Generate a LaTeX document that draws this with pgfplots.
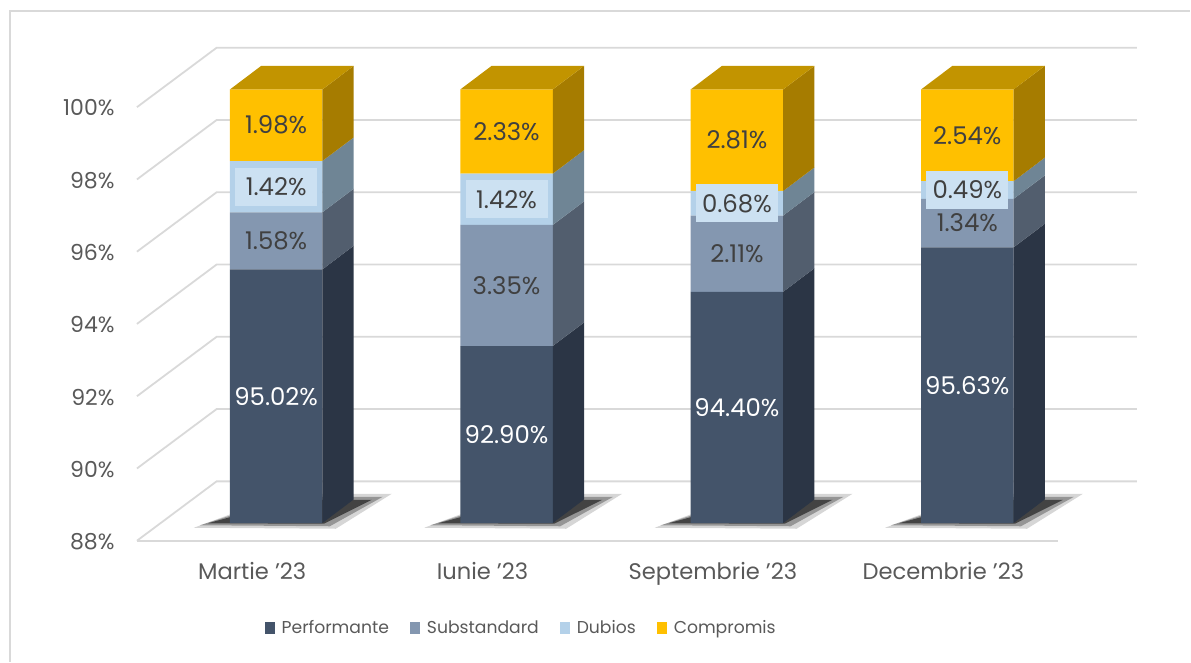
\documentclass[border=0pt]{standalone}
\usepackage{pgfplots}
\pgfplotsset{compat=1.18}
\usepackage{pgfplotstable}
\usepackage{fontspec}
\setmainfont{Poppins}

\definecolor{perf}{HTML}{44546A}
\definecolor{perfS}{HTML}{2B3545}
\definecolor{sub}{HTML}{8497B0}
\definecolor{subS}{HTML}{525E6E}
\definecolor{dub}{HTML}{B4D1E9}
\definecolor{dubS}{HTML}{6F8595}
\definecolor{dubBox}{HTML}{CCE1F2}
\definecolor{comp}{HTML}{FFC000}
\definecolor{compS}{HTML}{A67C00}
\definecolor{compT}{HTML}{C29400}
\definecolor{gridc}{HTML}{D9D9D9}
\definecolor{txt}{HTML}{595959}
\definecolor{lab}{HTML}{404040}

\pgfplotstableread{
x P S D C
0 95.02 1.58 1.42 1.98
1 92.90 3.35 1.42 2.33
2 94.40 2.11 0.68 2.81
3 95.63 1.34 0.49 2.54
}\datatable

% label positions (middle of the visible part of each segment)
\pgfplotstableread{
x y m
0 91.51 95.02
1 90.45 92.90
2 91.20 94.40
3 91.815 95.63
}\labP
\pgfplotstableread{
x y m
0 95.81 1.58
1 94.575 3.35
2 95.455 2.11
3 96.30 1.34
0 99.01 1.98
1 98.835 2.33
2 98.595 2.81
3 98.73 2.54
}\labSC
\pgfplotstableread{
x y m
0 97.31 1.42
1 96.96 1.42
2 96.85 0.68
3 97.215 0.49
}\labD

\newcommand\ap{\char39\relax}

\pgfplotsset{
 geo/.style={x=115.25pt, y=18.075pt, xmin=-0.6043, xmax=3.7354, ymin=88, ymax=100,
   scale only axis, enlargelimits=false, axis line style={draw=none},
   major tick length=0pt, at={(0pt,0pt)}, anchor=south west},
 noticks/.style={xtick=\empty, ytick=\empty},
 face/.style={draw=none, forget plot},
 gl/.style={draw=gridc, line width=0.9pt, forget plot, mark=none},
 sh/.style={draw=none, fill=black, forget plot},
 legsq/.style={legend image code/.code={\fill[##1] (0pt,-2.4pt) rectangle (5pt,3.6pt);}},
 lbl/.style={draw=none, mark=none, forget plot, point meta=explicit,
   nodes near coords={\pgfmathprintnumber[fixed,fixed zerofill,precision=2,assume math mode=true]{\pgfplotspointmeta}\%},
   every node near coord/.append style={anchor=center, font=\fontsize{12.2}{14}\selectfont}},
}

\begin{document}
\begin{tikzpicture}
% ---------- background: frame, walls, tick labels, shadows
\begin{axis}[geo, clip=false,
  ytick={88,90,...,100},
  yticklabels={88\%,90\%,92\%,94\%,96\%,98\%,100\%},
  yticklabel style={font=\fontsize{11}{13}\selectfont, text=txt, anchor=east, inner sep=0pt, xshift=-11pt, yshift=-9.3pt},
  xtick={0,1,2,3},
  xticklabels={Martie \ap23, Iunie \ap23, Septembrie \ap23, Decembrie \ap23},
  xticklabel style={font=\fontsize{11.3}{13}\selectfont, text=txt, anchor=base, inner sep=0pt, xshift=-12pt, yshift=-28.35pt},
]
\coordinate (bbsw) at (axis cs:-1.1987,84.163);
\coordinate (bbne) at (axis cs:3.9683,102.476);
% frame
\addplot[draw=gridc, line width=0.6pt, forget plot, mark=none] coordinates {(-1.1553,84.163) (-1.1553,102.172) (3.9683,102.172)};
% walls / grid
\addplot[gl] coordinates {(-0.6043,87.51) (-0.2586,89.154) (3.7354,89.154)};
\addplot[gl] coordinates {(-0.6043,89.51) (-0.2586,91.154) (3.7354,91.154)};
\addplot[gl] coordinates {(-0.6043,91.51) (-0.2586,93.154) (3.7354,93.154)};
\addplot[gl] coordinates {(-0.6043,93.51) (-0.2586,95.154) (3.7354,95.154)};
\addplot[gl] coordinates {(-0.6043,95.51) (-0.2586,97.154) (3.7354,97.154)};
\addplot[gl] coordinates {(-0.6043,97.51) (-0.2586,99.154) (3.7354,99.154)};
\addplot[gl] coordinates {(-0.6043,99.51) (-0.2586,101.154) (3.7354,101.154)};
\addplot[gl] coordinates {(-0.6043,87.51) (3.3957,87.51)};
% shadows (three soft layers under each bar)
\addplot[sh, fill opacity=0.16] coordinates {(-0.3571,87.870) (0.2590,87.842) (0.5020,88.8105) (0.0421,88.8105)} -- cycle;
\addplot[sh, fill opacity=0.30] coordinates {(-0.3310,87.939) (0.2330,87.911) (0.4629,88.7275) (0.0594,88.7275)} -- cycle;
\addplot[sh, fill opacity=0.55] coordinates {(-0.2963,87.9945) (0.2069,87.981) (0.4156,88.6445) (0.0768,88.6445)} -- cycle;
\addplot[sh, fill opacity=0.16] coordinates {(0.6429,87.870) (1.2590,87.842) (1.5020,88.8105) (1.0421,88.8105)} -- cycle;
\addplot[sh, fill opacity=0.30] coordinates {(0.6690,87.939) (1.2330,87.911) (1.4629,88.7275) (1.0594,88.7275)} -- cycle;
\addplot[sh, fill opacity=0.55] coordinates {(0.7037,87.9945) (1.2069,87.981) (1.4156,88.6445) (1.0768,88.6445)} -- cycle;
\addplot[sh, fill opacity=0.16] coordinates {(1.6429,87.870) (2.2590,87.842) (2.5020,88.8105) (2.0421,88.8105)} -- cycle;
\addplot[sh, fill opacity=0.30] coordinates {(1.6690,87.939) (2.2330,87.911) (2.4629,88.7275) (2.0594,88.7275)} -- cycle;
\addplot[sh, fill opacity=0.55] coordinates {(1.7037,87.9945) (2.2069,87.981) (2.4156,88.6445) (2.0768,88.6445)} -- cycle;
\addplot[sh, fill opacity=0.16] coordinates {(2.6429,87.870) (3.2590,87.842) (3.5020,88.8105) (3.0421,88.8105)} -- cycle;
\addplot[sh, fill opacity=0.30] coordinates {(2.6690,87.939) (3.2330,87.911) (3.4629,88.7275) (3.0594,88.7275)} -- cycle;
\addplot[sh, fill opacity=0.55] coordinates {(2.7037,87.9945) (3.2069,87.981) (3.4156,88.6445) (3.0768,88.6445)} -- cycle;
\end{axis}

% ---------- front faces of the stacked bars
\begin{axis}[geo, noticks, clip=true, ybar stacked, bar width=0.4013,
  legend columns=4,
  legend style={at={(0.3853,-0.2437)}, anchor=center, draw=none, fill=none,
    font=\fontsize{8.6}{11}\selectfont, text=txt,
    /tikz/every odd column/.append style={column sep=1.5pt},
    /tikz/every even column/.append style={column sep=8.5pt}},
]
\addplot[fill=perf, draw=none, legsq] table[x=x, y=P] {\datatable};
\addlegendentry{Performante}
\addplot[fill=sub, draw=none, legsq] table[x=x, y=S] {\datatable};
\addlegendentry{Substandard}
\addplot[fill=dub, draw=none, legsq] table[x=x, y=D] {\datatable};
\addlegendentry{Dubios}
\addplot[fill=comp, draw=none, legsq] table[x=x, y=C] {\datatable};
\addlegendentry{Compromis}
\end{axis}

% ---------- side and top faces, value labels
\begin{axis}[geo, noticks, clip=false]
% Martie
\addplot[face, fill=perfS] coordinates {(0.2007,88) (0.3365,88.6528) (0.3365,95.6728) (0.2007,95.02)} -- cycle;
\addplot[face, fill=subS]  coordinates {(0.2007,95.02) (0.3365,95.6728) (0.3365,97.2528) (0.2007,96.60)} -- cycle;
\addplot[face, fill=dubS]  coordinates {(0.2007,96.60) (0.3365,97.2528) (0.3365,98.6728) (0.2007,98.02)} -- cycle;
\addplot[face, fill=compS] coordinates {(0.2007,98.02) (0.3365,98.6728) (0.3365,100.6528) (0.2007,100)} -- cycle;
\addplot[face, fill=compT] coordinates {(-0.2007,100) (0.2007,100) (0.3365,100.6528) (-0.0649,100.6528)} -- cycle;
% Iunie
\addplot[face, fill=perfS] coordinates {(1.2007,88) (1.3365,88.6528) (1.3365,93.5528) (1.2007,92.90)} -- cycle;
\addplot[face, fill=subS]  coordinates {(1.2007,92.90) (1.3365,93.5528) (1.3365,96.9028) (1.2007,96.25)} -- cycle;
\addplot[face, fill=dubS]  coordinates {(1.2007,96.25) (1.3365,96.9028) (1.3365,98.3228) (1.2007,97.67)} -- cycle;
\addplot[face, fill=compS] coordinates {(1.2007,97.67) (1.3365,98.3228) (1.3365,100.6528) (1.2007,100)} -- cycle;
\addplot[face, fill=compT] coordinates {(0.7993,100) (1.2007,100) (1.3365,100.6528) (0.9351,100.6528)} -- cycle;
% Septembrie
\addplot[face, fill=perfS] coordinates {(2.2007,88) (2.3365,88.6528) (2.3365,95.0528) (2.2007,94.40)} -- cycle;
\addplot[face, fill=subS]  coordinates {(2.2007,94.40) (2.3365,95.0528) (2.3365,97.1628) (2.2007,96.51)} -- cycle;
\addplot[face, fill=dubS]  coordinates {(2.2007,96.51) (2.3365,97.1628) (2.3365,97.8428) (2.2007,97.19)} -- cycle;
\addplot[face, fill=compS] coordinates {(2.2007,97.19) (2.3365,97.8428) (2.3365,100.6528) (2.2007,100)} -- cycle;
\addplot[face, fill=compT] coordinates {(1.7993,100) (2.2007,100) (2.3365,100.6528) (1.9351,100.6528)} -- cycle;
% Decembrie
\addplot[face, fill=perfS] coordinates {(3.2007,88) (3.3365,88.6528) (3.3365,96.2828) (3.2007,95.63)} -- cycle;
\addplot[face, fill=subS]  coordinates {(3.2007,95.63) (3.3365,96.2828) (3.3365,97.6228) (3.2007,96.97)} -- cycle;
\addplot[face, fill=dubS]  coordinates {(3.2007,96.97) (3.3365,97.6228) (3.3365,98.1128) (3.2007,97.46)} -- cycle;
\addplot[face, fill=compS] coordinates {(3.2007,97.46) (3.3365,98.1128) (3.3365,100.6528) (3.2007,100)} -- cycle;
\addplot[face, fill=compT] coordinates {(2.7993,100) (3.2007,100) (3.3365,100.6528) (2.9351,100.6528)} -- cycle;
% labels
\addplot[lbl, every node near coord/.append style={text=white}] table[x=x, y=y, meta=m] {\labP};
\addplot[lbl, every node near coord/.append style={text=lab}] table[x=x, y=y, meta=m] {\labSC};
\addplot[lbl, every node near coord/.append style={text=lab, fill=dubBox, minimum width=41pt, minimum height=19pt, inner sep=0pt}] table[x=x, y=y, meta=m] {\labD};
\end{axis}
\path (bbsw) rectangle (bbne);
\end{tikzpicture}
\end{document}
